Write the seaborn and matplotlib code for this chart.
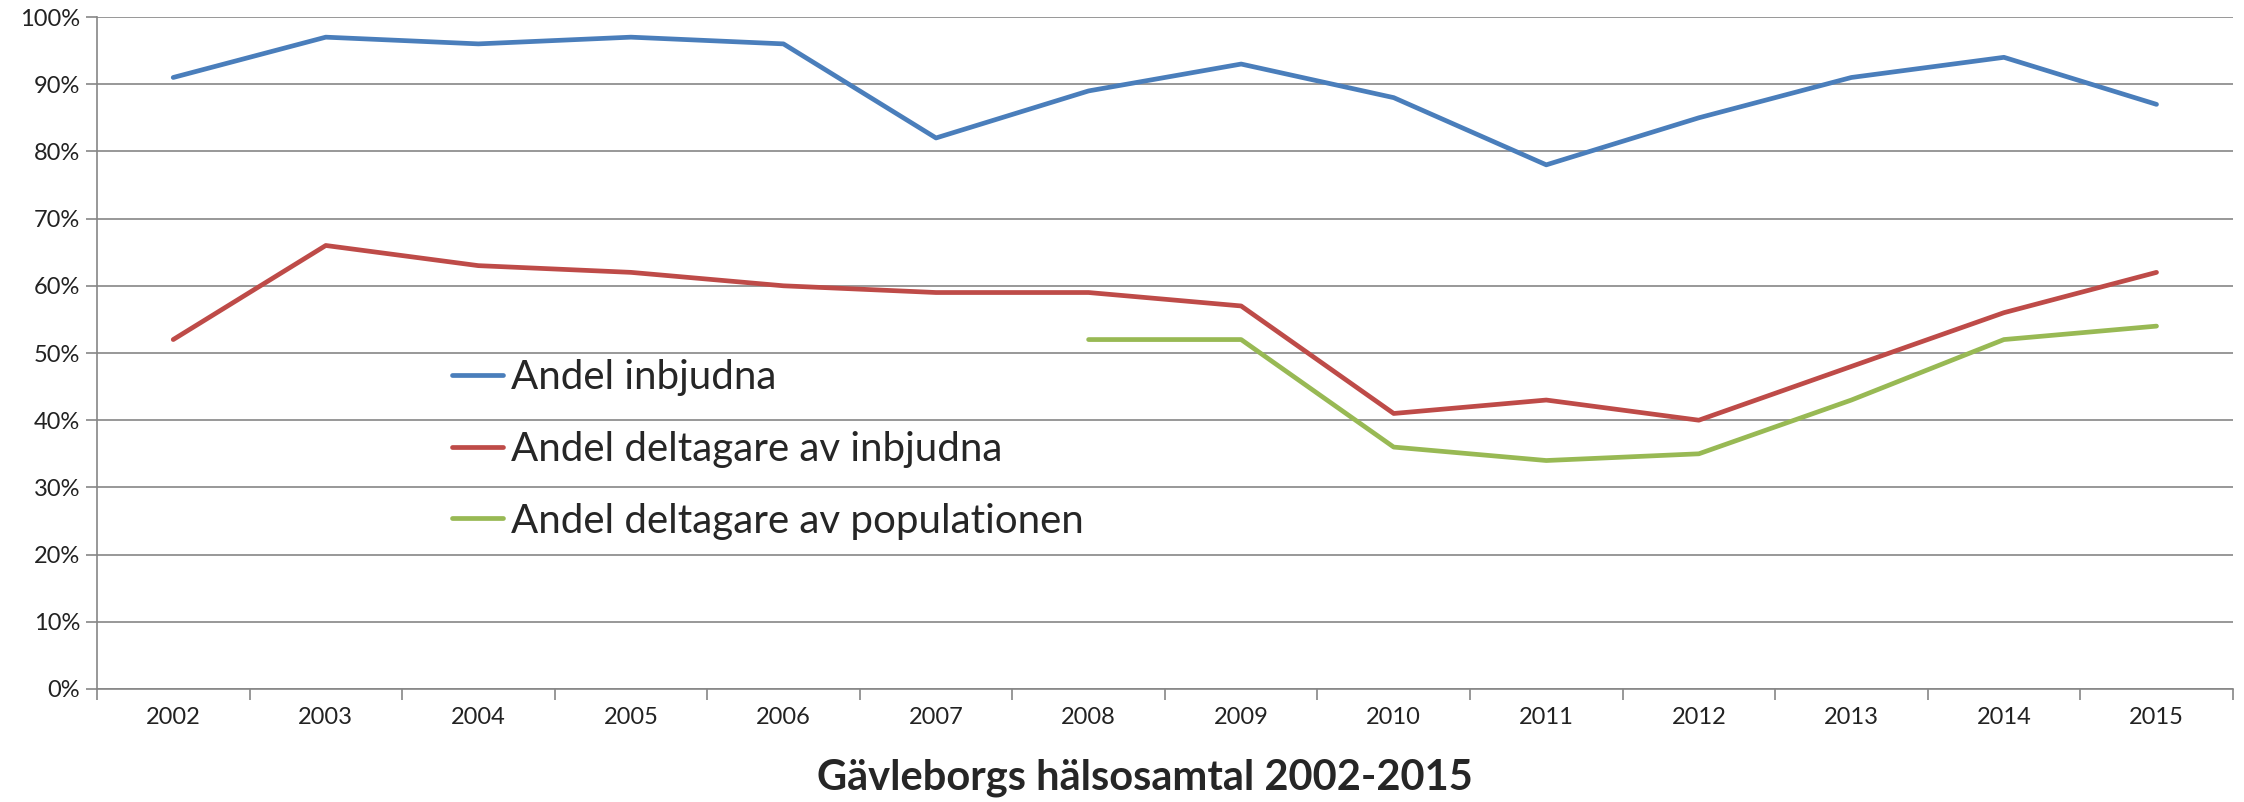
import matplotlib
matplotlib.use('Agg')
import matplotlib.pyplot as plt
import seaborn as sns
import pandas as pd
from matplotlib.ticker import FixedLocator, PercentFormatter

# data (percent)
years = ['2002', '2003', '2004', '2005', '2006', '2007', '2008',
         '2009', '2010', '2011', '2012', '2013', '2014', '2015']
andel_inbjudna = [91, 97, 96, 97, 96, 82, 89, 93, 88, 78, 85, 91, 94, 87]
andel_deltagare_inbjudna = [52, 66, 63, 62, 60, 59, 59, 57, 41, 43, 40, 48, 56, 62]
# population series only exists from 2008
pop_years = ['2008', '2009', '2010', '2011', '2012', '2013', '2014', '2015']
andel_deltagare_pop = [52, 52, 36, 34, 35, 43, 52, 54]

labels = ['Andel inbjudna', 'Andel deltagare av inbjudna', 'Andel deltagare av populationen']
colors = ['#4A7EBB', '#BE4B48', '#98B954']


def to_long(yrs, vals, name):
    return pd.DataFrame({'pos': [years.index(y) for y in yrs], 'value': vals, 'serie': name})


df = pd.concat([
    to_long(years, andel_inbjudna, labels[0]),
    to_long(years, andel_deltagare_inbjudna, labels[1]),
    to_long(pop_years, andel_deltagare_pop, labels[2]),
], ignore_index=True)

sns.set_style('white')
plt.rcParams['font.family'] = ['Lato', 'DejaVu Sans']

fig = plt.figure(figsize=(22.44, 8.02), dpi=100)
ax = fig.add_axes([0.0432, 0.1409, 0.9518, 0.8379])

sns.lineplot(data=df, x='pos', y='value', hue='serie', hue_order=labels,
             palette=colors, linewidth=3.4, ax=ax, sort=True)

grid_c = '#868686'
ax.set_xlim(-0.5, len(years) - 0.5)
ax.set_ylim(0, 100)
ax.set_yticks(range(0, 101, 10))
ax.yaxis.set_major_formatter(PercentFormatter(decimals=0))
ax.yaxis.grid(True, color=grid_c, linewidth=1.2)
ax.set_axisbelow(True)

# excel style: tick marks between categories, labels in the middle
ax.xaxis.set_major_locator(FixedLocator([i - 0.5 for i in range(len(years) + 1)]))
ax.xaxis.set_major_formatter(plt.NullFormatter())
ax.xaxis.set_minor_locator(FixedLocator(range(len(years))))
ax.set_xticklabels(years, minor=True)
ax.tick_params(axis='x', which='major', length=8, width=1.2, color=grid_c, direction='out', bottom=True)
ax.tick_params(axis='x', which='minor', length=0, labelsize=17, pad=13, labelcolor='#222222')
ax.tick_params(axis='y', length=8, width=1.2, color=grid_c, direction='out', left=True,
               labelsize=17, labelcolor='#222222', pad=4)

for s in ['top', 'right']:
    ax.spines[s].set_visible(False)
for s in ['left', 'bottom']:
    ax.spines[s].set_color(grid_c)
    ax.spines[s].set_linewidth(1.2)

ax.set_xlabel('')
ax.set_ylabel('')

leg = ax.legend(loc='upper left', bbox_to_anchor=(0.2014, 0.552), bbox_transform=fig.transFigure,
                frameon=False, fontsize=29, handlelength=1.28, handletextpad=0.18,
                labelspacing=0.86, borderpad=0, borderaxespad=0)
for line in leg.get_lines():
    line.set_linewidth(3.4)

fig.text(0.51, 0.03, 'Gävleborgs hälsosamtal 2002-2015', ha='center', va='center',
         fontsize=30, fontweight='bold')

fig.savefig('out.png', dpi=100)
